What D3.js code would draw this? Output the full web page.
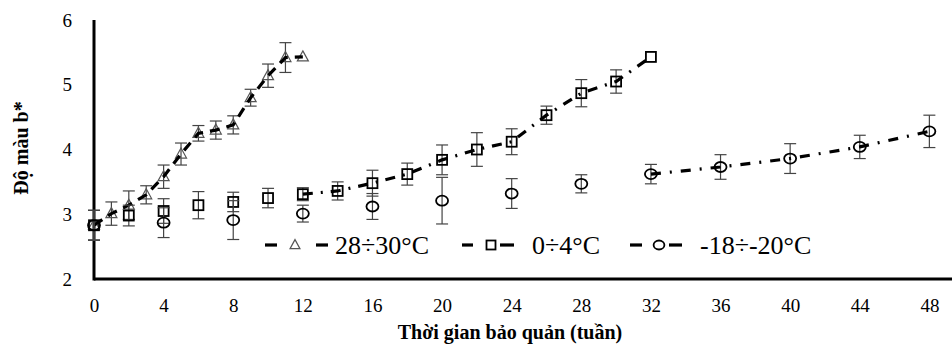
<!DOCTYPE html>
<html>
<head>
<meta charset="utf-8">
<script src="https://cdn.jsdelivr.net/npm/d3@7"></script>
<style>
  body { margin: 0; background: #fff; }
</style>
</head>
<body>
<div class="chart"></div>
<script>
// Data (weeks, mean b*, error)
const weeksHot = [0, 1, 2, 3, 4, 5, 6, 7, 8, 9, 10, 11, 12];
const hotMean = [2.83, 3.01, 3.14, 3.30, 3.58, 3.93, 4.25, 4.30, 4.38, 4.80, 5.14, 5.42, 5.43];
const hotErr = [0.23, 0.18, 0.22, 0.14, 0.18, 0.17, 0.12, 0.14, 0.14, 0.13, 0.18, 0.23, 0.02];

const weeksCool = [0, 2, 4, 6, 8, 10, 12, 14, 16, 18, 20, 22, 24, 26, 28, 30, 32];
const coolMean = [2.83, 2.98, 3.05, 3.14, 3.19, 3.25, 3.31, 3.36, 3.48, 3.62, 3.84, 4.00, 4.12, 4.53, 4.87, 5.05, 5.43];
const coolErr = [0.23, 0.16, 0.19, 0.21, 0.15, 0.15, 0.1, 0.14, 0.2, 0.17, 0.23, 0.26, 0.2, 0.14, 0.21, 0.18, 0.02];

const weeksFrozen = [0, 4, 8, 12, 16, 20, 24, 28, 32, 36, 40, 44, 48];
const frozenMean = [2.83, 2.87, 2.91, 3.01, 3.12, 3.21, 3.32, 3.47, 3.62, 3.73, 3.86, 4.04, 4.28];
const frozenErr = [0.23, 0.23, 0.3, 0.13, 0.2, 0.36, 0.23, 0.14, 0.15, 0.19, 0.23, 0.18, 0.25];

// the connecting line only shows from this week on
const lineFrom = { hot: 0, cool: 12, frozen: 32 };

const xTicks = d3.range(0, 49, 4);
const yTicks = [2, 3, 4, 5, 6];
const labels = { hot: "28÷30°C", cool: "0÷4°C", frozen: "-18÷-20°C" };

const width = 952, height = 345;
const serif = "'Liberation Serif', 'Times New Roman', 'DejaVu Serif', serif";

const svg = d3.select(".chart")
    .append("svg")
    .attr("width", width)
    .attr("height", height)
    .style("display", "block")
    .style("font-family", serif);

const x = d3.scaleLinear().domain([0, 49.3]).range([94, 952]);
const y = d3.scaleLinear().domain([2, 6]).range([279, 20]);

// axes (no tick marks, thick black lines)
const xAxis = svg.append("g")
    .attr("transform", `translate(0,${y(2)})`)
    .call(d3.axisBottom(x).tickValues(xTicks).tickSize(0).tickPadding(20).tickFormat(d3.format("d")));
const yAxis = svg.append("g")
    .attr("transform", `translate(${x(0)},0)`)
    .call(d3.axisLeft(y).tickValues(yTicks).tickSize(0).tickPadding(22).tickFormat(d3.format("d")));

[xAxis, yAxis].forEach(g => {
    g.attr("font-family", serif).attr("font-size", 19);
    g.select(".domain").remove();
    g.selectAll("text")
        .style("font-family", serif)
        .attr("fill", "#000");
});

// axis lines drawn on the scales' extents
svg.append("line")
    .attr("x1", x(0)).attr("x2", x.range()[1])
    .attr("y1", y(2)).attr("y2", y(2))
    .attr("stroke", "#000").attr("stroke-width", 3);
svg.append("line")
    .attr("x1", x(0)).attr("x2", x(0))
    .attr("y1", y(6)).attr("y2", y(2) + 1.5)
    .attr("stroke", "#000").attr("stroke-width", 3);

// axis titles
svg.append("text")
    .attr("transform", "translate(28,148) rotate(-90)")
    .attr("text-anchor", "middle")
    .attr("font-size", 20)
    .attr("font-weight", "bold")
    .style("font-family", serif)
    .text("Độ màu b*");

svg.append("text")
    .attr("x", 510)
    .attr("y", 339)
    .attr("text-anchor", "middle")
    .attr("font-size", 20)
    .attr("font-weight", "bold")
    .style("font-family", serif)
    .text("Thời gian bảo quản (tuần)");

const series = [
    { key: "hot", weeks: weeksHot, mean: hotMean, err: hotErr, dash: "10,7", shape: "triangle" },
    { key: "cool", weeks: weeksCool, mean: coolMean, err: coolErr, dash: "10,8,2,8", shape: "square" },
    { key: "frozen", weeks: weeksFrozen, mean: frozenMean, err: frozenErr, dash: "10,9,2,9", shape: "circle" }
];

const line = d3.line()
    .x(d => x(d.w))
    .y(d => y(d.v));

function drawMarker(g, shape, size) {
    if (shape === "triangle") {
        g.append("path")
            .attr("d", `M0,${-size * 0.6}L${size * 0.55},${size * 0.4}L${-size * 0.55},${size * 0.4}Z`)
            .attr("fill", "none").attr("stroke", "#555").attr("stroke-width", 1.2);
    } else if (shape === "square") {
        g.append("rect")
            .attr("x", -size / 2).attr("y", -size / 2)
            .attr("width", size).attr("height", size)
            .attr("fill", "none").attr("stroke", "#000").attr("stroke-width", 1.8);
    } else {
        g.append("ellipse")
            .attr("rx", size * 0.6).attr("ry", size / 2)
            .attr("fill", "none").attr("stroke", "#000").attr("stroke-width", 1.8);
    }
}

series.forEach(s => {
    const pts = s.weeks.map((w, i) => ({ w, v: s.mean[i], e: s.err[i] }));

    // error bars
    const eb = svg.append("g").attr("stroke", "#444").attr("stroke-width", 1.2);
    pts.filter(d => d.e > 0.03).forEach(d => {
        eb.append("line")
            .attr("x1", x(d.w)).attr("x2", x(d.w))
            .attr("y1", y(d.v + d.e)).attr("y2", y(d.v - d.e));
        [d.v + d.e, d.v - d.e].forEach(v => {
            eb.append("line")
                .attr("x1", x(d.w) - 6).attr("x2", x(d.w) + 6)
                .attr("y1", y(v)).attr("y2", y(v));
        });
    });

    // markers
    svg.append("g").selectAll("g")
        .data(pts)
        .enter()
        .append("g")
        .attr("transform", d => `translate(${x(d.w)},${y(d.v)})`)
        .each(function() { drawMarker(d3.select(this), s.shape, 10); });

    // connecting line
    svg.append("path")
        .attr("fill", "none")
        .attr("stroke", "#000")
        .attr("stroke-width", 3.2)
        .attr("stroke-dasharray", s.dash)
        .attr("d", line(pts.filter(d => d.w >= lineFrom[s.key])));
});

// legend: dash, marker, dash, label
const legendX = [265, 462, 630];
const legendGap = [[0, 12, 30, 51, 63], [0, 11, 29, 38, 52], [0, 12, 29, 39, 52]];
const legend = svg.append("g").attr("transform", "translate(0,245)");
series.forEach((s, i) => {
    const p = legendGap[i];
    const g = legend.append("g").attr("transform", `translate(${legendX[i]},0)`);
    g.append("line").attr("x1", p[0]).attr("x2", p[1]).attr("stroke", "#000").attr("stroke-width", 3.2);
    g.append("line").attr("x1", p[3]).attr("x2", p[4]).attr("stroke", "#000").attr("stroke-width", 3.2);
    const m = g.append("g").attr("transform", `translate(${p[2]},0)`);
    drawMarker(m, s.shape, 9);
    g.append("text")
        .attr("x", 70)
        .attr("y", 0)
        .attr("dy", "0.35em")
        .attr("font-size", 26)
        .style("font-family", serif)
        .text(labels[s.key]);
});
</script>
</body>
</html>
